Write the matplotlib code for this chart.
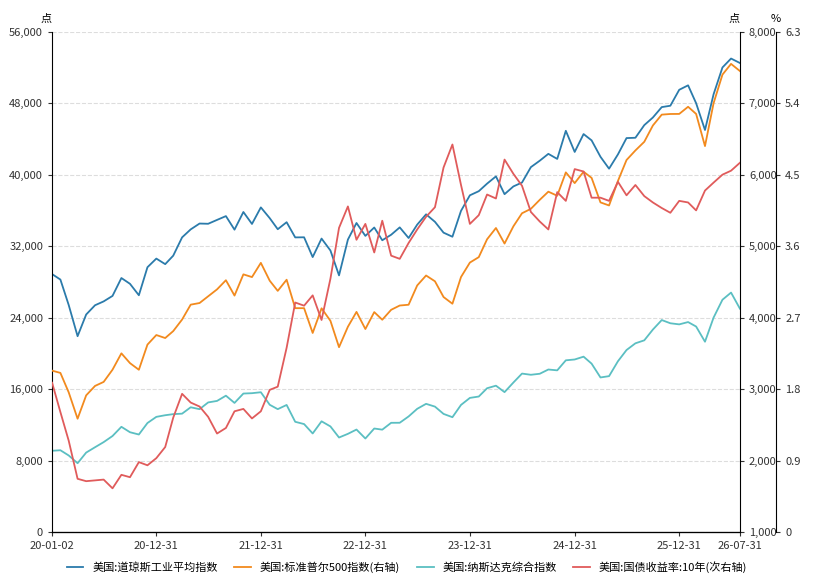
import pandas as pd
import matplotlib.pyplot as plt
import matplotlib.ticker as mticker

plt.rcParams['font.family'] = ['Noto Sans CJK SC', 'DejaVu Sans']
plt.rcParams['font.size'] = 8

# 月末数据（首个点为 2020-01-02）
dates = [pd.Timestamp('2020-01-02')] + list(pd.date_range('2020-01-31', '2026-07-31', freq='ME'))

dow = [28868,
       28256, 25409, 21917, 24346, 25383, 25813, 26428, 28430, 27782, 26502, 29638, 30606,
       29983, 30932, 32982, 33875, 34529, 34503, 34935, 35361, 33844, 35820, 34484, 36338,
       35132, 33893, 34678, 32977, 32990, 30775, 32845, 31510, 28726, 32733, 34590, 33147,
       34086, 32657, 33274, 34098, 32908, 34408, 35560, 34722, 33508, 33053, 35951, 37690,
       38150, 38996, 39807, 37816, 38686, 39119, 40843, 41563, 42330, 41763, 44911, 42544,
       44545, 43841, 42002, 40669, 42270, 44095, 44131, 45545, 46398, 47563, 47716, 49500,
       50000, 48000, 45000, 49000, 52000, 53000, 52500]
spx = [3258,
       3226, 2954, 2585, 2912, 3044, 3100, 3271, 3500, 3363, 3270, 3622, 3756,
       3714, 3811, 3973, 4181, 4204, 4298, 4395, 4523, 4308, 4605, 4567, 4766,
       4516, 4374, 4530, 4132, 4132, 3785, 4130, 3955, 3586, 3872, 4080, 3840,
       4077, 3970, 4109, 4169, 4180, 4450, 4589, 4508, 4288, 4194, 4568, 4770,
       4846, 5096, 5254, 5036, 5278, 5460, 5522, 5648, 5762, 5705, 6032, 5882,
       6041, 5955, 5612, 5569, 5912, 6205, 6339, 6460, 6688, 6840, 6849, 6850,
       6950, 6850, 6400, 7000, 7400, 7550, 7450]
ndx = [9092,
       9151, 8567, 7700, 8890, 9490, 10059, 10745, 11775, 11168, 10912, 12199, 12888,
       13071, 13192, 13247, 13962, 13749, 14504, 14673, 15259, 14449, 15498, 15538, 15645,
       14240, 13751, 14221, 12335, 12081, 11029, 12391, 11816, 10576, 10988, 11468, 10466,
       11585, 11456, 12222, 12227, 12935, 13788, 14346, 14035, 13219, 12851, 14226, 15011,
       15164, 16092, 16379, 15658, 16735, 17733, 17599, 17714, 18189, 18095, 19218, 19311,
       19627, 18847, 17299, 17446, 19114, 20370, 21122, 21456, 22660, 23725, 23366, 23242,
       23500, 23000, 21300, 24000, 26000, 26800, 25000]
ust10 = [1.88,
         1.51, 1.15, 0.67, 0.64, 0.65, 0.66, 0.55, 0.72, 0.69, 0.88, 0.84, 0.93,
         1.07, 1.44, 1.74, 1.63, 1.58, 1.45, 1.24, 1.31, 1.52, 1.55, 1.43, 1.52,
         1.79, 1.83, 2.32, 2.89, 2.85, 2.98, 2.67, 3.19, 3.83, 4.10, 3.68, 3.88,
         3.52, 3.92, 3.48, 3.44, 3.64, 3.81, 3.97, 4.09, 4.59, 4.88, 4.37, 3.88,
         3.99, 4.25, 4.20, 4.69, 4.51, 4.36, 4.03, 3.91, 3.81, 4.28, 4.17, 4.57,
         4.54, 4.21, 4.21, 4.17, 4.41, 4.24, 4.37, 4.23, 4.15, 4.08, 4.02, 4.17,
         4.15, 4.05, 4.30, 4.40, 4.50, 4.55, 4.65]

xticks = ['2020-01-02', '2020-12-31', '2021-12-31', '2022-12-31', '2023-12-31',
          '2024-12-31', '2025-12-31', '2026-07-31']
labels = ['美国:道琼斯工业平均指数', '美国:标准普尔500指数(右轴)',
          '美国:纳斯达克综合指数', '美国:国债收益率:10年(次右轴)']
colors = ['#2b7bab', '#f28a1e', '#5bbfc2', '#e05b5b']

fig = plt.figure(figsize=(8.14, 5.77), dpi=100)
ax = fig.add_axes([0.064, 0.078, 0.845, 0.867])
ax2 = ax.twinx()
ax3 = ax.twinx()
ax3.spines['right'].set_position(('outward', 26))

l1, = ax.plot(dates, dow, color=colors[0], lw=1.3)
l3, = ax.plot(dates, ndx, color=colors[2], lw=1.3)
l2, = ax2.plot(dates, spx, color=colors[1], lw=1.3)
l4, = ax3.plot(dates, ust10, color=colors[3], lw=1.3)

ax.set_ylim(0, 56000)
ax.set_yticks(range(0, 56001, 8000))
ax.yaxis.set_major_formatter(mticker.StrMethodFormatter('{x:,.0f}'))
ax2.set_ylim(1000, 8000)
ax2.set_yticks(range(1000, 8001, 1000))
ax2.yaxis.set_major_formatter(mticker.StrMethodFormatter('{x:,.0f}'))
ax3.set_ylim(0, 6.3)
ax3.set_yticks([0, 0.9, 1.8, 2.7, 3.6, 4.5, 5.4, 6.3])
ax3.set_yticklabels(['0', '0.9', '1.8', '2.7', '3.6', '4.5', '5.4', '6.3'])

ax.set_xlim(pd.Timestamp('2020-01-02'), pd.Timestamp('2026-07-31'))
ax.set_xticks([pd.Timestamp(t) for t in xticks])
ax.set_xticklabels([t[2:] for t in xticks])

ax.grid(axis='y', ls='--', color='#dddddd', lw=0.8)
ax.set_axisbelow(True)
for a in (ax, ax2, ax3):
    a.spines['top'].set_visible(False)
    a.tick_params(colors='#333333', labelsize=8, length=3)
ax.spines['right'].set_visible(False)
ax2.spines['left'].set_visible(False)
ax3.spines['left'].set_visible(False)

ax.text(0.0, 1.02, '点', transform=ax.transAxes, ha='right', fontsize=8)
ax.text(1.0, 1.02, '点', transform=ax.transAxes, ha='right', fontsize=8)
ax.text(1.045, 1.02, '%', transform=ax.transAxes, ha='left', fontsize=8)

fig.legend([l1, l2, l3, l4], labels, loc='lower center', ncol=4, frameon=False,
           bbox_to_anchor=(0.5, -0.01), fontsize=8, handlelength=1.5, columnspacing=1.5)

fig.savefig('out.png')
